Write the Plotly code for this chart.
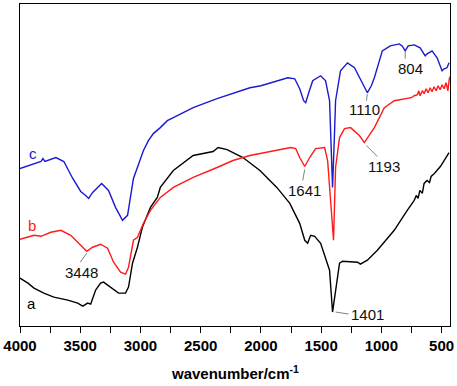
import plotly.graph_objects as go

# ---- data (wavenumber in cm^-1, transmittance in arbitrary units) ----
wn_c = [4000, 3884, 3826, 3810, 3793, 3702, 3636, 3562, 3496, 3455, 3430, 3397, 3322, 3265, 3207,
        3149, 3107, 3058, 3017, 2975, 2934, 2893, 2835, 2777, 2727, 2612, 2562, 2364, 2091, 2000,
        1777, 1719, 1678, 1645, 1628, 1603, 1570, 1504, 1463, 1430, 1421, 1405, 1388, 1380, 1339,
        1281, 1223, 1157, 1116, 1083, 1058, 992, 926, 851, 827, 802, 777, 727, 678, 636, 620, 579,
        537, 496, 479, 455, 438]
t_c = [158, 163, 165, 168, 165, 169, 165, 148, 135, 131, 128, 134, 143, 136, 119,
       106, 111, 148, 161, 176, 186, 193, 199, 206, 209, 216, 219, 228, 239, 241,
       249, 248, 238, 226, 224, 234, 246, 251, 246, 226, 196, 139, 196, 226, 256,
       264, 259, 243, 234, 241, 249, 276, 281, 283, 281, 276, 281, 282, 279, 271, 273, 276,
       269, 256, 258, 259, 264]

wn_b = [4000, 3884, 3826, 3744, 3661, 3579, 3496, 3446, 3397, 3331, 3273, 3223, 3165, 3124, 3099,
        3058, 3025, 2975, 2917, 2835, 2727, 2562, 2364, 2232, 2091, 2000, 1752, 1711, 1678, 1636,
        1595, 1546, 1471, 1446, 1421, 1397, 1380, 1347, 1306, 1256, 1182, 1141, 1058, 975, 893,
        810, 752, 727, 700, 690, 678, 660, 645, 628, 612, 595, 579, 562, 545, 529, 512, 496, 479,
        463, 447, 438, 432]
t_b = [87, 91, 90, 94, 96, 91, 81, 75, 79, 82, 78, 64, 54, 52, 59,
       86, 89, 103, 116, 129, 139, 149, 159, 166, 171, 173, 179, 178, 169, 160,
       169, 178, 179, 166, 126, 86, 159, 189, 198, 199, 191, 184, 199, 219, 226,
       228, 229, 231, 232, 236, 231, 236, 233, 238, 234, 239, 235, 240, 236, 241, 237, 242, 238,
       244, 236, 246, 250]

wn_a = [4000, 3934, 3884, 3802, 3719, 3603, 3521, 3479, 3438, 3413, 3372, 3331, 3306, 3248, 3182,
        3124, 3099, 3066, 3025, 2984, 2917, 2860, 2835, 2727, 2562, 2397, 2355, 2281, 2149, 2008,
        1868, 1760, 1719, 1678, 1636, 1612, 1587, 1554, 1504, 1463, 1430, 1405, 1380, 1347, 1322,
        1198, 1174, 1141, 1116, 1033, 893, 785, 752, 727, 710, 695, 680, 660, 645, 620, 600, 587,
        560, 537, 510, 479, 455, 438]
t_a = [48, 43, 38, 33, 29, 26, 23, 20, 23, 22, 36, 43, 44, 39, 33,
       33, 39, 63, 79, 99, 119, 129, 139, 156, 171, 175, 179, 177, 169, 156,
       139, 123, 113, 103, 86, 83, 91, 90, 83, 69, 56, 14, 36, 63, 65,
       64, 62, 64, 66, 76, 96, 116, 122, 126, 131, 128, 136, 133, 143, 146, 144, 150,
       153, 156, 160, 166, 170, 174]

x_ticks = [4000, 3500, 3000, 2500, 2000, 1500, 1000, 500]

# peak labels: (text, text_wn, text_t, line_from_wn, line_from_t, line_to_wn, line_to_t)
peak_labels = [
    ("3448", 3488, 54, 3446, 73, 3500, 64),
    ("1641", 1636, 136, 1636, 157, 1653, 146),
    ("1193", 975, 160, 1124, 181, 1033, 170),
    ("1110", 1141, 217, 1116, 233, 1124, 226),
    ("804", 760, 258, 802, 275, 802, 268),
]
curve_labels = [("c", 3893, 173, "#1a1ad0"), ("b", 3901, 101, "#ff1a1a"), ("a", 3901, 23, "#000000")]

fig = go.Figure()
fig.add_trace(go.Scatter(x=wn_a, y=t_a, mode="lines", line=dict(color="#000000", width=1.4), showlegend=False))
fig.add_trace(go.Scatter(x=wn_b, y=t_b, mode="lines", line=dict(color="#ff1a1a", width=1.4), showlegend=False))
fig.add_trace(go.Scatter(x=wn_c, y=t_c, mode="lines", line=dict(color="#1a1ad0", width=1.4), showlegend=False))

for txt, tx, ty, x0, y0, x1, y1 in peak_labels:
    fig.add_shape(type="line", x0=x0, y0=y0, x1=x1, y1=y1, xref="x", yref="y",
                  line=dict(color="#808080", width=1))
    fig.add_annotation(x=tx, y=ty, xref="x", yref="y", text=txt, showarrow=False,
                       font=dict(family="Liberation Sans, Arial", size=15, color="#111111"))

# 1401 label with horizontal leader
fig.add_shape(type="line", x0=1380, y0=14, x1=1273, y1=12, xref="x", yref="y",
              line=dict(color="#808080", width=1))
fig.add_annotation(x=1265, y=12, xref="x", yref="y", text="1401", showarrow=False, xanchor="left",
                   font=dict(family="Liberation Sans, Arial", size=15, color="#111111"))

for txt, tx, ty, col in curve_labels:
    fig.add_annotation(x=tx, y=ty, xref="x", yref="y", text=txt, showarrow=False,
                       font=dict(family="Liberation Sans, Arial", size=15, color=col))

fig.add_annotation(x=0.5, y=-0.1455, xref="paper", yref="paper", text="<b>wavenumber/cm<sup>-1</sup></b>",
                   showarrow=False, yanchor="middle",
                   font=dict(family="Liberation Sans, Arial", size=15, color="#000000"))

fig.update_xaxes(range=[4000, 430], tickmode="array", tickvals=x_ticks,
                 ticks="outside", ticklen=6, tickwidth=1, tickcolor="#000000",
                 minor=dict(dtick=250, ticks="outside", ticklen=6, tickwidth=1, tickcolor="#000000", showgrid=False),
                 showline=True, linecolor="#000000", linewidth=1, mirror=True,
                 showgrid=False, zeroline=False,
                 tickfont=dict(family="Liberation Sans, Arial", size=15, color="#000000", weight="bold"))
fig.update_yaxes(range=[0, 323], showticklabels=False, ticks="", showline=True, linecolor="#000000",
                 linewidth=1, mirror=True, showgrid=False, zeroline=False)

fig.update_layout(width=457, height=386, margin=dict(l=19, r=6, t=3, b=60),
                  paper_bgcolor="white", plot_bgcolor="white")

fig.write_html("out.html", config={"displayModeBar": False},
               post_script="document.body.style.margin='0px';")
